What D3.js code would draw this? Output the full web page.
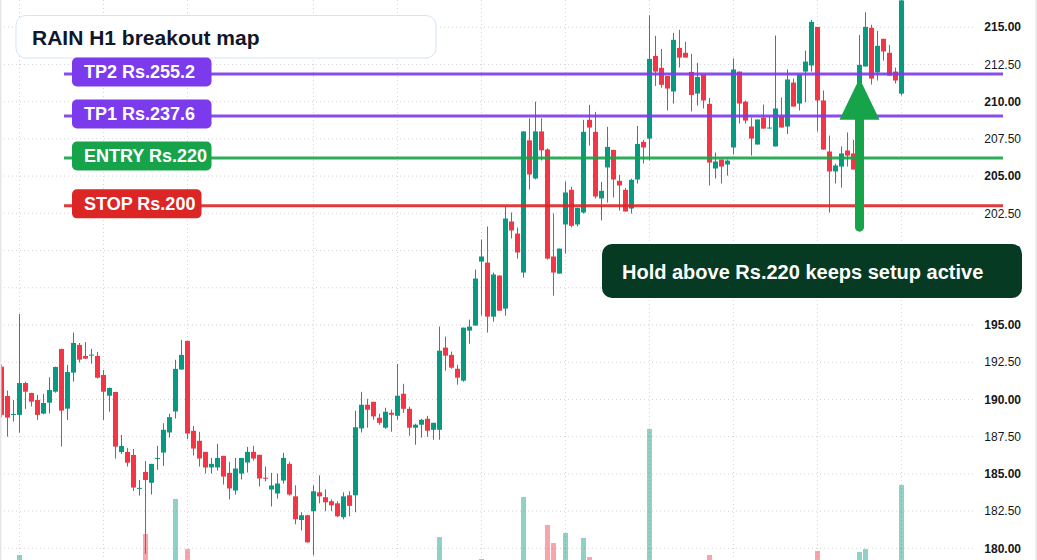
<!DOCTYPE html>
<html>
<head>
<meta charset="utf-8">
<script src="https://cdn.jsdelivr.net/npm/d3@7"></script>
<style>
  html, body { margin: 0; padding: 0; background: #fff; }
  svg { display: block; font-family: "Liberation Sans", Arial, sans-serif; }
</style>
</head>
<body>
<div id="chart"></div>
<script>
// hourly candles, oldest first
var opens = [192.20,190.23,188.98,188.96,191.10,190.43,189.96,189.05,189.78,190.52,
  193.39,189.38,191.80,193.66,192.92,192.97,192.92,191.64,190.25,190.50,
  186.47,186.47,186.27,184.02,185.13,184.40,186.03,186.43,187.78,189.19,
  192.01,193.93,187.89,187.22,186.48,185.43,185.43,186.21,185.07,183.88,
  185.02,185.76,186.48,186.28,184.74,183.95,183.68,184.55,185.67,183.49,
  181.90,182.22,182.49,183.76,183.43,183.16,183.02,182.09,183.56,183.56,
  188.05,189.64,189.84,188.77,188.10,189.10,188.90,190.38,189.37,188.10,
  188.30,188.70,187.96,187.96,193.48,192.99,192.06,191.26,194.62,194.96,
  199.26,199.19,195.56,198.32,196.10,201.95,201.14,198.52,207.40,204.84,
  208.00,206.79,199.60,198.45,201.75,204.08,201.75,202.55,208.78,207.97,
  203.50,205.58,206.76,204.68,204.08,202.82,204.77,207.30,207.52,213.07,
  212.27,211.73,210.68,213.61,213.28,212.00,210.54,211.80,209.85,205.51,
  206.11,205.78,206.92,212.02,210.00,208.33,207.12,208.93,208.24,206.99,
  209.00,208.33,211.28,209.87,212.02,212.43,215.02,210.08,206.65,205.31,
  205.64,206.72,206.52,207.00,212.36,214.96,211.96,214.22,213.28,212.02,
  210.54];
var highs = [192.35,190.59,189.96,195.74,191.19,190.45,190.30,190.37,191.49,192.20,
  193.40,192.31,194.49,193.79,193.86,193.39,193.19,191.98,190.80,190.50,
  187.61,186.74,186.67,184.59,185.87,185.67,186.88,188.40,189.03,192.66,
  194.00,193.93,188.22,187.82,186.48,186.07,187.02,186.21,185.81,186.07,
  186.07,186.81,186.88,186.28,185.49,185.07,185.02,186.41,185.81,184.23,
  182.42,182.25,184.23,184.90,183.96,183.29,183.16,183.76,183.83,189.24,
  190.51,190.04,189.84,189.04,189.44,189.31,192.38,191.05,189.51,188.37,
  188.70,188.90,188.43,194.89,194.22,193.21,192.33,194.82,195.36,198.72,
  200.74,201.61,198.52,198.32,202.96,202.56,201.55,208.00,208.88,210.00,
  208.88,206.86,202.49,200.13,204.64,204.28,202.87,208.78,209.78,209.31,
  204.61,208.31,206.76,205.08,204.21,204.82,208.37,207.43,215.80,214.42,
  213.54,211.73,214.62,214.82,214.02,213.21,212.60,211.80,210.25,206.58,
  206.11,206.11,212.90,212.02,210.07,208.93,208.80,209.81,209.00,214.44,
  210.28,212.16,211.55,211.82,213.43,215.49,215.02,210.75,207.72,205.84,
  206.99,207.93,207.43,214.48,216.00,215.16,214.75,214.22,213.81,212.29,
  217.00];
var lows = [188.80,187.50,188.51,187.77,189.36,189.52,188.62,189.00,189.05,190.45,
  186.83,188.62,191.19,192.47,192.72,192.40,191.40,188.62,189.18,186.02,
  186.34,185.49,183.85,183.54,179.62,183.61,185.27,185.54,187.44,188.72,
  192.00,187.33,186.23,185.49,185.02,185.02,185.22,184.28,183.28,183.61,
  184.62,185.09,185.89,184.15,184.49,182.81,183.34,184.35,183.54,181.61,
  181.21,180.38,179.53,183.02,182.49,182.49,182.09,181.95,182.15,182.42,
  187.78,188.10,188.63,188.30,188.03,187.83,188.63,189.10,187.56,186.96,
  187.43,187.49,187.29,187.29,191.93,192.06,190.99,191.19,193.74,194.96,
  195.63,194.49,195.22,195.96,195.63,200.81,199.46,198.18,204.10,204.78,
  206.05,199.39,196.97,198.45,199.80,201.56,201.62,202.48,207.05,203.50,
  202.02,203.22,203.56,202.69,202.62,202.48,204.50,205.84,206.05,211.06,
  210.93,209.40,209.87,212.29,212.96,209.34,209.74,209.54,204.37,204.84,
  204.50,205.04,206.45,208.53,208.53,206.38,207.12,208.19,208.19,206.99,
  208.26,207.83,209.67,209.40,209.96,212.02,207.99,206.78,202.55,204.50,
  204.23,205.64,205.44,206.30,212.36,211.15,211.42,212.76,211.75,211.22,
  210.41];
var closes = [188.96,188.78,189.02,191.10,190.52,189.85,188.96,189.76,190.63,192.18,
  189.25,191.84,193.79,192.67,192.74,193.01,191.46,190.52,190.77,186.83,
  186.87,185.75,184.08,184.06,184.59,185.67,186.07,187.96,188.81,192.05,
  192.99,187.71,186.70,186.03,185.43,185.67,186.07,184.82,184.02,185.36,
  186.07,186.48,186.03,184.69,184.70,184.22,184.35,186.07,183.61,181.95,
  182.22,180.40,183.83,183.49,183.09,182.89,182.15,183.49,182.85,188.13,
  189.64,189.31,188.86,188.43,189.17,188.97,190.25,189.37,188.10,188.30,
  188.63,187.90,188.43,193.27,192.94,192.13,191.46,194.82,194.89,198.12,
  199.60,195.56,198.39,195.96,202.15,201.35,199.87,208.00,205.11,208.00,
  206.73,199.46,198.52,200.13,203.90,201.66,202.87,207.97,208.26,203.63,
  204.01,206.96,204.77,204.37,202.62,204.75,207.16,206.92,212.87,212.02,
  211.13,210.88,214.15,212.96,212.96,210.45,211.66,210.08,205.91,205.98,
  205.64,206.04,212.16,209.87,208.73,207.52,208.80,208.19,208.26,209.54,
  208.26,211.49,209.67,211.82,212.69,215.36,210.08,206.78,205.31,205.71,
  206.52,206.38,205.44,212.47,215.02,211.55,213.75,213.37,211.75,211.42,
  216.80];
// volume in thousand shares
var volumes = [120,95,80,263,140,70,110,85,90,150,
  210,130,175,95,60,55,100,140,75,205,
  90,110,160,70,386,120,80,130,110,591,
  190,298,150,120,95,60,85,120,140,110,
  75,90,65,115,70,105,85,130,150,180,
  90,170,215,95,80,60,85,100,90,220,
  165,90,80,60,85,70,175,110,120,80,
  65,95,70,368,160,90,110,200,95,215,
  240,225,150,140,220,100,120,602,210,200,
  150,439,333,140,392,160,90,363,251,215,
  130,170,140,95,110,120,180,90,1000,210,
  150,120,200,140,80,160,110,120,263,100,
  85,70,220,170,110,120,95,80,60,210,
  100,160,110,120,140,220,287,180,200,90,
  110,95,100,281,298,215,160,110,130,95,
  673];

var priceTicks = [180, 182.5, 185, 187.5, 190, 192.5, 195, 197.5, 200, 202.5, 205, 207.5, 210, 212.5, 215];
var timeTicks = [3, 17, 31, 52, 66, 80, 94, 108, 122, 136, 150];

var levelNames = ["TP2", "TP1", "ENTRY", "STOP"];
var levelLabels = ["TP2 Rs.255.2", "TP1 Rs.237.6", "ENTRY Rs.220", "STOP Rs.200"];
var levelPrices = [211.86, 209.04, 206.22, 203.0];

var title = "RAIN H1 breakout map";
var note = "Hold above Rs.220 keeps setup active";
var arrowBar = 143;
var arrowFrom = 201.57, arrowTo = 211.57;

var up = "#089981", down = "#f23645";
var levelColor = {TP2: "#7c3aed", TP1: "#7c3aed", ENTRY: "#16a34a", STOP: "#dc2626"};

var width = 1037, height = 560;

var data = opens.map(function(o, i) {
  return {i: i, o: o, h: highs[i], l: lows[i], c: closes[i], v: volumes[i]};
});

var svg = d3.select("#chart").append("svg")
  .attr("width", width)
  .attr("height", height);

var x = d3.scaleLinear().domain([0, 150]).range([1.5, 901.5]);
var y = d3.scaleLinear().domain([180, 215]).range([548.3, 27.2]);
var vol = d3.scaleLinear().domain([0, 1000]).range([600, 429]);

// grid
var grid = svg.append("g").attr("stroke", "#d4d4d4").attr("stroke-dasharray", "1,3");
grid.selectAll(".hg").data(priceTicks).enter().append("line")
  .attr("x1", 0).attr("x2", 976)
  .attr("y1", function(d) { return y(d); })
  .attr("y2", function(d) { return y(d); });
grid.selectAll(".vg").data(timeTicks).enter().append("line")
  .attr("x1", function(d) { return x(d); })
  .attr("x2", function(d) { return x(d); })
  .attr("y1", 0).attr("y2", height);

// volume
svg.append("g").selectAll("rect").data(data).enter().append("rect")
  .attr("x", function(d) { return x(d.i) - 2.5; })
  .attr("width", 5)
  .attr("y", function(d) { return vol(d.v); })
  .attr("height", function(d) { return vol(0) - vol(d.v); })
  .attr("fill", function(d) { return d.c >= d.o ? up : down; })
  .attr("fill-opacity", 0.45);

// candles
var candles = svg.append("g").selectAll("g").data(data).enter().append("g")
  .attr("fill", function(d) { return d.c >= d.o ? up : down; })
  .attr("stroke", function(d) { return d.c >= d.o ? up : down; });
candles.append("line")
  .attr("x1", function(d) { return x(d.i); })
  .attr("x2", function(d) { return x(d.i); })
  .attr("y1", function(d) { return y(d.h); })
  .attr("y2", function(d) { return y(d.l); })
  .attr("stroke-width", 1);
candles.append("rect")
  .attr("stroke", "none")
  .attr("x", function(d) { return x(d.i) - 2.5; })
  .attr("width", 5)
  .attr("y", function(d) { return y(Math.max(d.o, d.c)); })
  .attr("height", function(d) { return Math.max(1, Math.abs(y(d.o) - y(d.c))); });

// level lines
svg.append("g").selectAll("line").data(levelPrices).enter().append("line")
  .attr("x1", 64).attr("x2", 1003)
  .attr("y1", function(d) { return y(d); })
  .attr("y2", function(d) { return y(d); })
  .attr("stroke", function(d, i) { return levelColor[levelNames[i]]; })
  .attr("stroke-opacity", 0.9)
  .attr("stroke-width", 3);

// title box
svg.append("rect")
  .attr("x", 16).attr("y", 15.5)
  .attr("width", 420).attr("height", 42.5)
  .attr("rx", 10)
  .attr("fill", "#fff").attr("fill-opacity", 0.95)
  .attr("stroke", "#d5e3f6");
svg.append("text")
  .attr("x", 32).attr("y", 44.5)
  .attr("font-size", "21px").attr("font-weight", "bold")
  .attr("fill", "#0f172a")
  .text(title);

// level pills
var pills = svg.append("g").selectAll("g").data(levelLabels).enter().append("g")
  .attr("transform", function(d, i) { return "translate(72," + (y(levelPrices[i]) - 2) + ")"; });
pills.append("rect")
  .attr("x", 0).attr("y", -14.5)
  .attr("width", function(d) { return d.length * 10 + 19.5; })
  .attr("height", 29)
  .attr("rx", 5)
  .attr("fill", function(d, i) { return levelColor[levelNames[i]]; });
pills.append("text")
  .attr("x", 12).attr("y", 6.3)
  .attr("font-size", "18px").attr("font-weight", "bold")
  .attr("fill", "#fff")
  .text(function(d) { return d; });

// arrow
var ax = x(arrowBar), tip = y(arrowTo);
svg.append("line")
  .attr("x1", ax).attr("x2", ax)
  .attr("y1", y(arrowFrom)).attr("y2", tip + 36)
  .attr("stroke", "#16a34a").attr("stroke-width", 9)
  .attr("stroke-linecap", "round");
svg.append("path")
  .attr("d", "M" + ax + "," + tip + "L" + (ax + 20) + "," + (tip + 41.5) + "L" + (ax - 20) + "," + (tip + 41.5) + "Z")
  .attr("fill", "#16a34a");

// price axis labels
svg.append("g").selectAll("text").data(priceTicks).enter().append("text")
  .attr("x", 1021)
  .attr("y", function(d) { return y(d); })
  .attr("dy", "0.35em")
  .attr("text-anchor", "end")
  .attr("font-size", "12px")
  .attr("font-weight", function(d) { return d % 5 === 0 ? "bold" : "normal"; })
  .attr("fill", "#131722")
  .text(function(d) { return d.toFixed(2); });

// note box
svg.append("rect")
  .attr("x", 602).attr("y", 244)
  .attr("width", 420).attr("height", 54)
  .attr("rx", 10)
  .attr("fill", "#063a22");
svg.append("text")
  .attr("x", 622).attr("y", 279)
  .attr("font-size", "20px").attr("font-weight", "bold")
  .attr("fill", "#fff")
  .text(note);

// frame edges
svg.append("rect").attr("x", 0).attr("y", 0).attr("width", 1.5).attr("height", height).attr("fill", "#e6e6e6");
svg.append("rect").attr("x", width - 1.5).attr("y", 0).attr("width", 1.5).attr("height", height).attr("fill", "#e6e6e6");
</script>
</body>
</html>
